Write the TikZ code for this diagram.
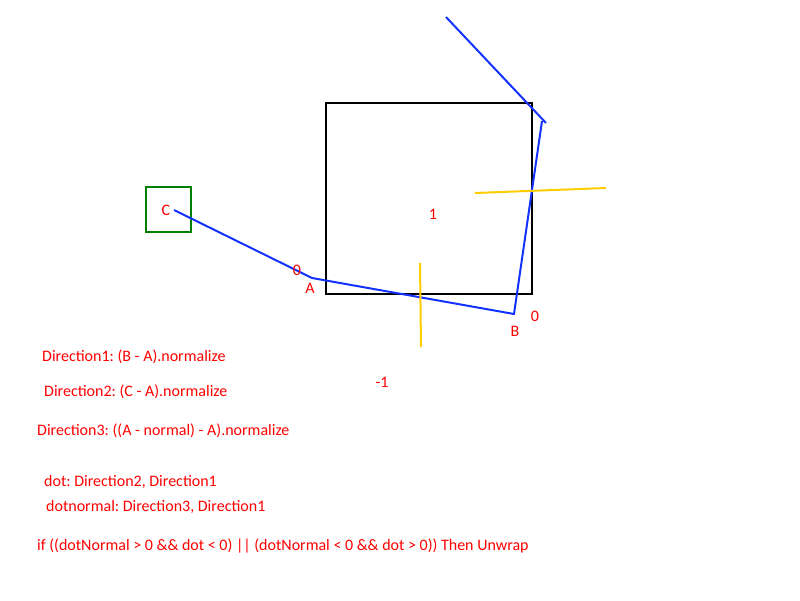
\documentclass[tikz,border=0pt]{standalone}
\usepackage{fontspec}
\setmainfont{Carlito}
\frenchspacing
\begin{document}
\begin{tikzpicture}[x=1pt,y=-1pt,
  lbl/.style={text=red,font=\fontsize{16}{18}\selectfont,inner sep=0pt},
  txt/.style={lbl,anchor=west},
  sq/.style={line width=2pt,inner sep=0pt,outer sep=0pt,anchor=north west},
  bl/.style={draw={rgb,255:red,20;green,50;blue,255},line width=2pt,line join=round},
  yl/.style={draw={rgb,255:red,255;green,204;blue,0},line width=2pt}]
\useasboundingbox (0,0) rectangle (800,600);
\node[sq,draw=black,minimum width=206pt,minimum height=191pt] (box) at (326,103) {};
\node[sq,draw={rgb,255:red,0;green,128;blue,0},minimum width=45pt,minimum height=45pt] (gbox) at (146,187) {};
\coordinate (pc) at (174,210);
\coordinate (pa) at (312,278);
\coordinate (pb) at (514,314);
\coordinate (pt) at (542,121);
\coordinate (d1) at (446,17);
\coordinate (d2) at (546,123);
\draw[bl] (pc) -- (pa) -- (pb) -- (pt);
\draw[bl] (d1) -- (d2);
\coordinate (y1) at (420,263);
\coordinate (y2) at (421,347);
\coordinate (y3) at (475,193);
\coordinate (y4) at (606,188);
\draw[yl] (y1) -- (y2);
\draw[yl] (y3) -- (y4);
\node[lbl] (lc) at (166,210) {C};
\node[lbl] (l0a) at (297,270) {0};
\node[lbl] (la) at (310,288) {A};
\node[lbl] (l1) at (433,214) {1};
\node[lbl] (lb) at (515,331) {B};
\node[lbl] (l0b) at (535,316) {0};
\node[lbl] (lm1) at (382,382) {-1};
\node[txt] (t1) at (42,357) {Direction1: (B - A).normalize};
\node[txt] (t2) at (44,392) {Direction2: (C - A).normalize};
\node[txt] (t3) at (37,431) {Direction3: ((A - normal) - A).normalize};
\node[txt] (t4) at (44,482) {dot: Direction2, Direction1};
\node[txt] (t5) at (46,507) {dotnormal: Direction3, Direction1};
\node[txt] (t6) at (37,546) {if ((dotNormal > 0 \&\& dot < 0) || (dotNormal < 0 \&\& dot > 0)) Then Unwrap};
\end{tikzpicture}
\end{document}
